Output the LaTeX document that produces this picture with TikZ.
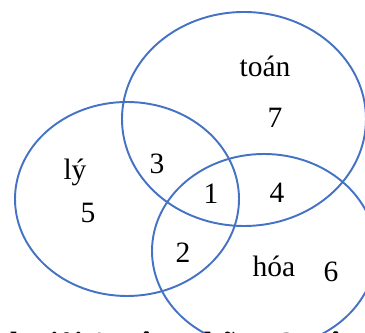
\documentclass[tikz,border=0pt]{standalone}
\usepackage{fontspec}
\setmainfont{Liberation Serif}
\usetikzlibrary{math}
\definecolor{vennblue}{RGB}{68,114,196}

\begin{document}
\begin{tikzpicture}[x=0.02cm,y=-0.02cm,font=\fontsize{16.8}{20}\selectfont]
\tikzmath{
\W=365;
\H=333;
\lw=1.1;
}
\useasboundingbox (0,0) rectangle (\W,\H);
\clip (0,0) rectangle (\W,\H);
%sets
\draw[vennblue, line width=\lw pt] (244,119) ellipse [x radius=122, y radius=107];
\draw[vennblue, line width=\lw pt] (127,199) ellipse [x radius=112, y radius=97];
\draw[vennblue, line width=\lw pt] (264,251) ellipse [x radius=112, y radius=97];

%names of the sets
\node[anchor=base] (toan) at (265,77) {toán};
\node[anchor=base] (ly) at (75,180) {lý};
\node[anchor=base] (hoa) at (274,277) {hóa};

%counts
\node[anchor=base] (n7) at (275,128) {7};
\node[anchor=base] (n5) at (88,223) {5};
\node[anchor=base] (n3) at (157,174) {3};
\node[anchor=base] (n1) at (211,204) {1};
\node[anchor=base] (n4) at (277,203) {4};
\node[anchor=base] (n2) at (183,263) {2};
\node[anchor=base] (n6) at (331,282) {6};

%text below, cut by the frame
\node[anchor=base west, inner sep=0pt, font=\fontsize{17.5}{20}\selectfont\bfseries] (caption) at (-28,354) {sinh giỏi 1 môn, những 2 môn, học};
\end{tikzpicture}
\end{document}
